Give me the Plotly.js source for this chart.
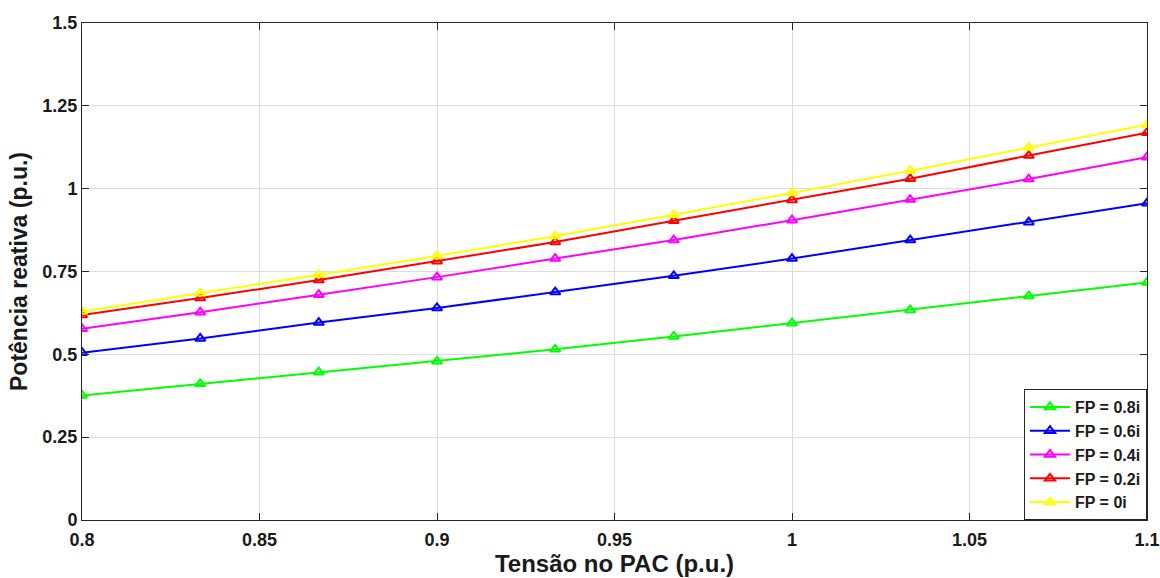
<!DOCTYPE html>
<html>
<head>
<meta charset="utf-8">
<script src="https://cdn.plot.ly/plotly-3.0.1.min.js"></script>
<style>
html,body{margin:0;padding:0;background:#fff;}
#chart{width:1160px;height:578px;}
</style>
</head>
<body>
<div id="chart"></div>
<script>
const tensao = [0.8, 0.8333, 0.8667, 0.9, 0.9333, 0.9667, 1.0, 1.0333, 1.0667, 1.1];
const fp08 = [0.376, 0.411, 0.446, 0.479, 0.515, 0.554, 0.594, 0.634, 0.676, 0.717];
const fp06 = [0.505, 0.548, 0.596, 0.640, 0.688, 0.737, 0.789, 0.845, 0.899, 0.956];
const fp04 = [0.577, 0.627, 0.680, 0.733, 0.789, 0.845, 0.905, 0.967, 1.029, 1.095];
const fp02 = [0.619, 0.670, 0.724, 0.781, 0.839, 0.903, 0.966, 1.030, 1.100, 1.169];
const fp00 = [0.629, 0.684, 0.740, 0.797, 0.857, 0.921, 0.987, 1.054, 1.124, 1.193];
const seriesNames = ['FP = 0.8i', 'FP = 0.6i', 'FP = 0.4i', 'FP = 0.2i', 'FP = 0i'];
const seriesColors = ['#00ff00', '#0000ff', '#ff00ff', '#ff0000', '#ffff00'];
const xTicks = [0.8, 0.85, 0.9, 0.95, 1, 1.05, 1.1];
const xTickText = ['0.8', '0.85', '0.9', '0.95', '1', '1.05', '1.1'];
const yTicks = [0, 0.25, 0.5, 0.75, 1, 1.25, 1.5];
const yTickText = ['0', '0.25', '0.5', '0.75', '1', '1.25', '1.5'];

const ys = [fp08, fp06, fp04, fp02, fp00];
const traces = ys.map((y, i) => ({
  x: tensao, y: y, type: 'scatter', mode: 'lines+markers',
  name: seriesNames[i],
  line: {color: seriesColors[i], width: 2},
  marker: {symbol: 'triangle-up-open', size: 9, color: seriesColors[i], line: {width: 2, color: seriesColors[i]}}
}));

const fontFam = 'Liberation Sans, Arial, sans-serif';
const layout = {
  width: 1160, height: 578,
  margin: {l: 82, r: 13, t: 23, b: 58},
  paper_bgcolor: '#ffffff', plot_bgcolor: '#ffffff',
  showlegend: true,
  font: {family: fontFam, color: '#1a1a1a'},
  xaxis: {
    range: [0.8, 1.1], tickvals: xTicks, ticktext: xTickText,
    showgrid: true, gridcolor: '#dcdcdc', gridwidth: 1,
    zeroline: false, showline: true, linecolor: '#262626', linewidth: 1, mirror: 'ticks',
    ticks: 'inside', ticklen: 7, tickcolor: '#262626', ticklabelstandoff: 3,
    tickfont: {family: fontFam, size: 18, color: '#1a1a1a', weight: 'bold'},
    title: {text: '<b>Tensão no PAC (p.u.)</b>', font: {family: fontFam, size: 24, color: '#1a1a1a'}, standoff: 5}
  },
  yaxis: {
    range: [0, 1.5], tickvals: yTicks, ticktext: yTickText,
    showgrid: true, gridcolor: '#dcdcdc', gridwidth: 1,
    zeroline: false, showline: true, linecolor: '#262626', linewidth: 1, mirror: 'ticks',
    ticks: 'inside', ticklen: 7, tickcolor: '#262626',
    tickfont: {family: fontFam, size: 18, color: '#1a1a1a', weight: 'bold'},
    title: {text: '<b>Potência reativa (p.u.)</b>', font: {family: fontFam, size: 23, color: '#1a1a1a'}, standoff: 8}
  },
  legend: {
    x: 1, y: 0, xanchor: 'right', yanchor: 'bottom',
    bgcolor: '#ffffff', bordercolor: '#262626', borderwidth: 1,
    font: {family: fontFam, size: 16, color: '#1a1a1a', weight: 'bold'},
    tracegroupgap: 0, itemwidth: 40
  }
};

Plotly.newPlot('chart', traces, layout, {displayModeBar: false, staticPlot: true});
</script>
</body>
</html>
